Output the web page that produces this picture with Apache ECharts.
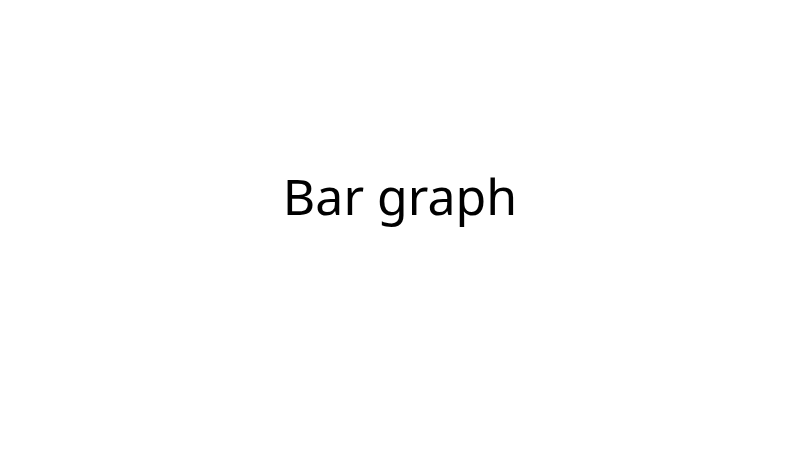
<!DOCTYPE html>
<html>
<head>
<meta charset="utf-8">
<script src="https://cdn.jsdelivr.net/npm/echarts@6/dist/echarts.min.js"></script>
<style>
  html, body { margin: 0; padding: 0; background: #fff; }
  #chart { width: 800px; height: 449px; }
</style>
</head>
<body>
<div id="chart"></div>
<script>
// the reference shows only the title, no bars
const titleText = 'Bar graph'
const categories = []
const values = []

const chart = echarts.init(document.getElementById('chart'))
const option = {
  backgroundColor: '#ffffff',
  animation: false,
  title: {
    text: titleText,
    left: 'center',
    top: 171,
    textStyle: {
      fontFamily: 'Noto Sans',
      fontWeight: 'normal',
      fontSize: 50,
      color: '#000000'
    }
  },
  xAxis: { type: 'category', data: categories, show: false },
  yAxis: { type: 'value', show: false },
  series: [{ type: 'bar', data: values }]
}
chart.setOption(option)
</script>
</body>
</html>
